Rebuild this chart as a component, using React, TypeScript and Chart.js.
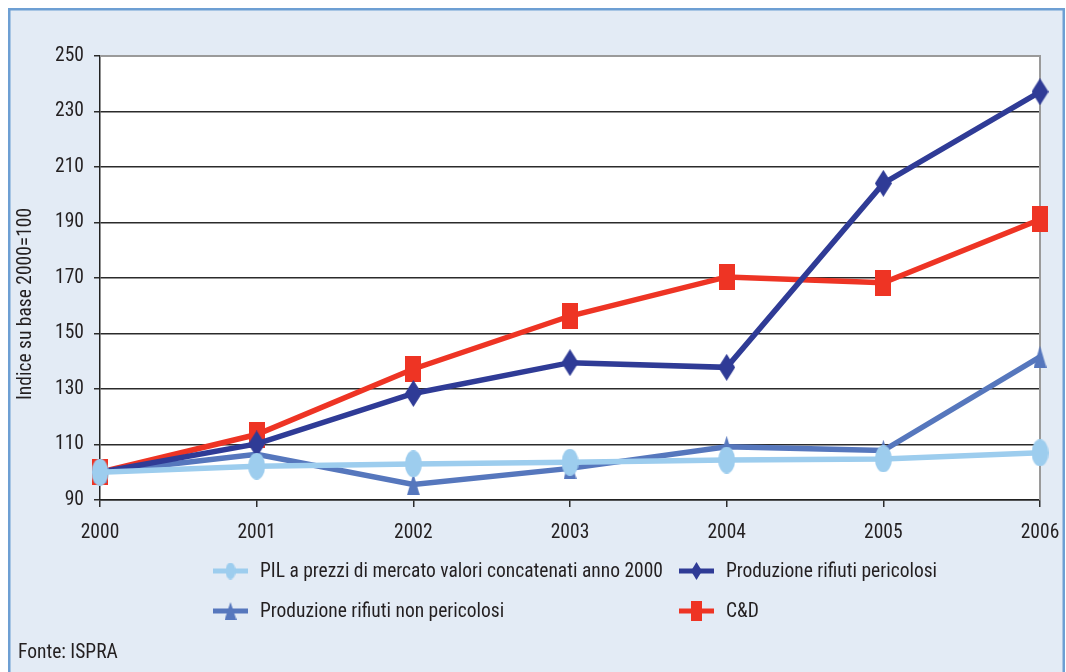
import React, { useEffect, useRef } from "react";
import { Chart, registerables } from "chart.js";

Chart.register(...registerables);

// Index values, base year 2000 = 100
const years = ["2000", "2001", "2002", "2003", "2004", "2005", "2006"];
const pil = [100, 102.2, 103.0, 103.6, 104.4, 104.8, 107.0];
const hazardous = [100, 110.2, 128.4, 139.5, 137.8, 204.1, 237.1];
const nonHazardous = [100, 106.5, 95.6, 101.4, 109.2, 107.8, 141.6];
const constructionDemolition = [100, 113.6, 137.2, 156.3, 170.4, 168.3, 191.1];

const seriesLabels = [
  "PIL a prezzi di mercato valori concatenati anno 2000",
  "Produzione rifiuti pericolosi",
  "Produzione rifiuti non pericolosi",
  "C&D",
];
const yTicks = [90, 110, 130, 150, 170, 190, 210, 230, 250];
const yTitle = "Indice su base 2000=100";
const sourceNote = "Fonte: ISPRA";

const FONT = "'Liberation Sans Narrow', 'Arial Narrow', 'Roboto Condensed', 'DejaVu Sans Condensed', sans-serif";
const FONT_SIZE = 19.5;
const COLORS = {
  pil: "#9dcdee",
  hazardous: "#2f3b96",
  nonHazardous: "#5677bd",
  cd: "#ee3424",
  panel: "#e3ebf5",
  frame: "#6d9fd3",
  text: "#231f20",
};

type Shape = "ellipse" | "diamond" | "triangle" | "square";

function makeMarker(shape: Shape, w: number, h: number, color: string): HTMLCanvasElement {
  const c = document.createElement("canvas");
  c.width = w;
  c.height = h;
  const g = c.getContext("2d")!;
  g.fillStyle = color;
  g.beginPath();
  if (shape === "ellipse") {
    g.ellipse(w / 2, h / 2, w / 2, h / 2, 0, 0, Math.PI * 2);
  } else if (shape === "diamond") {
    g.moveTo(w / 2, 0);
    g.lineTo(w, h / 2);
    g.lineTo(w / 2, h);
    g.lineTo(0, h / 2);
    g.closePath();
  } else if (shape === "triangle") {
    g.moveTo(w / 2, 0);
    g.lineTo(w, h);
    g.lineTo(0, h);
    g.closePath();
  } else {
    g.rect(0, 0, w, h);
  }
  g.fill();
  return c;
}

export default function App() {
  const canvasRef = useRef<HTMLCanvasElement | null>(null);

  useEffect(() => {
    const canvas = canvasRef.current;
    if (!canvas) return;

    const specs: {
      data: number[];
      color: string;
      shape: Shape;
      w: number;
      h: number;
      lw: number;
      lh: number;
    }[] = [
      { data: pil, color: COLORS.pil, shape: "ellipse", w: 17, h: 27, lw: 10, lh: 17 },
      { data: hazardous, color: COLORS.hazardous, shape: "diamond", w: 17, h: 27, lw: 11, lh: 18 },
      { data: nonHazardous, color: COLORS.nonHazardous, shape: "triangle", w: 13, h: 22, lw: 12, lh: 18 },
      { data: constructionDemolition, color: COLORS.cd, shape: "square", w: 16, h: 26, lw: 11, lh: 20 },
    ];
    const legendMarkers = specs.map((s) => makeMarker(s.shape, s.lw, s.lh, s.color));

    const framePlugin = {
      id: "frame",
      beforeDraw(chart: Chart) {
        const { ctx, chartArea } = chart;
        ctx.save();
        ctx.fillStyle = COLORS.panel;
        ctx.fillRect(8, 8, 1057, 680);
        ctx.strokeStyle = COLORS.frame;
        ctx.lineWidth = 2.5;
        ctx.strokeRect(9.25, 9.25, 1054.5, 700);
        ctx.fillStyle = "#ffffff";
        ctx.fillRect(chartArea.left, chartArea.top, chartArea.right - chartArea.left, chartArea.bottom - chartArea.top);
        ctx.restore();
      },
      beforeDatasetsDraw(chart: Chart) {
        const { ctx, chartArea } = chart;
        ctx.save();
        ctx.strokeStyle = "#9a9a9a";
        ctx.lineWidth = 2;
        ctx.beginPath();
        ctx.moveTo(chartArea.left, chartArea.top);
        ctx.lineTo(chartArea.right, chartArea.top);
        ctx.lineTo(chartArea.right, chartArea.bottom);
        ctx.stroke();
        ctx.restore();
      },
      afterDraw(chart: Chart) {
        const { ctx } = chart;
        ctx.save();
        ctx.fillStyle = COLORS.text;
        ctx.font = `${FONT_SIZE}px ${FONT}`;
        // rotated axis title
        ctx.save();
        ctx.translate(26, 304);
        ctx.rotate(-Math.PI / 2);
        ctx.textAlign = "center";
        ctx.textBaseline = "middle";
        ctx.fillText(yTitle, 0, 0);
        ctx.restore();

        // legend in a two-column grid
        const cols = [213, 679];
        const rows = [571, 611];
        [0, 1, 2, 3].forEach((i) => {
          const x = cols[i % 2];
          const y = rows[Math.floor(i / 2)];
          const ds = chart.data.datasets[i];
          ctx.strokeStyle = ds.borderColor as string;
          ctx.lineWidth = 5;
          ctx.beginPath();
          ctx.moveTo(x, y);
          ctx.lineTo(x + 35, y);
          ctx.stroke();
          const m = legendMarkers[i];
          ctx.drawImage(m, x + 17.5 - m.width / 2, y - m.height / 2);
          ctx.fillStyle = COLORS.text;
          ctx.textAlign = "left";
          ctx.textBaseline = "middle";
          ctx.fillText(ds.label as string, x + 47, y + 1);
        });

        ctx.textAlign = "left";
        ctx.textBaseline = "middle";
        ctx.fillText(sourceNote, 18, 653);
        ctx.restore();
      },
    };

    const chart = new Chart(canvas, {
      type: "line",
      data: {
        labels: years,
        datasets: specs.map((s, i) => ({
          label: seriesLabels[i],
          data: s.data,
          borderColor: s.color,
          backgroundColor: s.color,
          borderWidth: 5.5,
          pointStyle: makeMarker(s.shape, s.w, s.h, s.color),
          pointRadius: 10,
          pointHoverRadius: 10,
          tension: 0,
          fill: false,
          clip: false,
        })),
      },
      options: {
        responsive: false,
        animation: false,
        devicePixelRatio: 1,
        layout: { padding: { left: 0, top: 56, right: 26, bottom: 0 } },
        plugins: {
          legend: { display: false },
          tooltip: { enabled: false },
          title: { display: false },
        },
        scales: {
          x: {
            type: "category",
            offset: false,
            afterFit(scale: any) {
              scale.height = 172;
              scale.paddingLeft = 0;
              scale.paddingRight = 0;
            },
            grid: {
              drawOnChartArea: false,
              drawTicks: true,
              tickLength: 7,
              color: "#2b2b2b",
              lineWidth: 1.5,
            },
            border: { display: true, color: "#222222", width: 1.5 },
            ticks: {
              color: COLORS.text,
              font: { family: FONT, size: FONT_SIZE },
              padding: 14,
              maxRotation: 0,
              autoSkip: false,
            },
          },
          y: {
            min: 90,
            max: 250,
            afterFit(scale: any) {
              scale.width = 100;
              scale.paddingTop = 0;
              scale.paddingBottom = 0;
            },
            afterBuildTicks(scale: any) {
              scale.ticks = yTicks.map((v) => ({ value: v }));
            },
            grid: {
              color: (c: any) => (c.tick && c.tick.value === 250 ? "#9a9a9a" : "#2b2b2b"),
              tickColor: "#2b2b2b",
              lineWidth: 1.5,
              tickLength: 6,
            },
            border: { display: true, color: "#222222", width: 1.5 },
            ticks: {
              color: COLORS.text,
              font: { family: FONT, size: FONT_SIZE },
              padding: 10,
            },
          },
        },
      },
      plugins: [framePlugin],
    });

    return () => chart.destroy();
  }, []);

  return (
    <div style={{ position: "absolute", left: 0, top: 0, width: 1066, height: 672, overflow: "hidden" }}>
      <canvas ref={canvasRef} width={1066} height={672} style={{ display: "block", width: 1066, height: 672 }} />
    </div>
  );
}
